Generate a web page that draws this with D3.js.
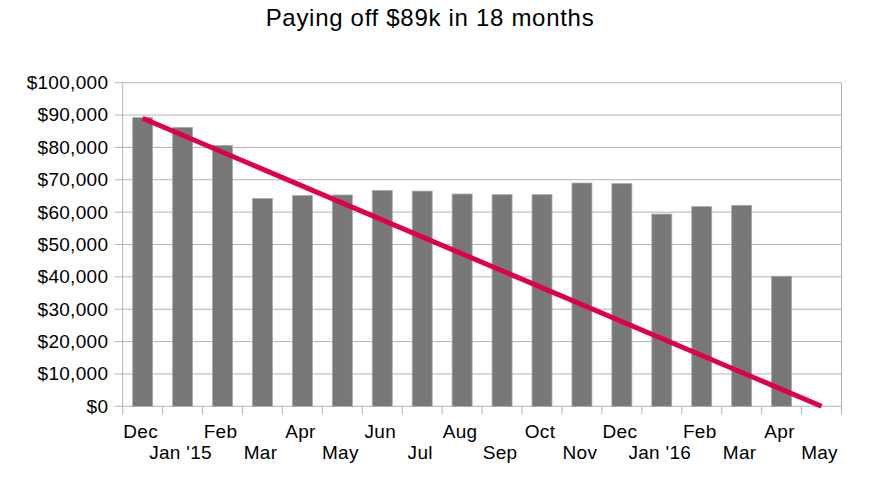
<!DOCTYPE html>
<html><head><meta charset="utf-8">
<script src="https://cdn.jsdelivr.net/npm/d3@7"></script>
<style>
body{margin:0;background:#fff;}
svg{display:block;font-family:"Liberation Sans",Arial,Helvetica,sans-serif;}
</style></head>
<body><svg id="c" width="874" height="494"></svg>
<script>
const months = ["Dec","Jan '15","Feb","Mar","Apr","May","Jun","Jul","Aug","Sep","Oct","Nov","Dec","Jan '16","Feb","Mar","Apr","May"];
const balances = [89200,86200,80600,64200,65100,65300,66700,66500,65600,65400,65400,69000,68800,59400,61700,62100,40200,null];
const targetStart = 89000, targetEnd = 0;
const yTicks = [0,10000,20000,30000,40000,50000,60000,70000,80000,90000,100000];
const title = "Paying off $89k in 18 months";

const svg = d3.select("#c");
const L = 122.7, R = 841.5, T = 82.7, B = 406.3;
const keys = months.map((m,i)=>i);
const x = d3.scaleBand().domain(keys).range([L,R]).paddingInner(0.5).paddingOuter(0.25);
const xc = d3.scaleBand().domain(keys).range([L,R]);
const y = d3.scaleLinear().domain([0,100000]).range([B,T]);

// gridlines
svg.append("g").selectAll("line").data(yTicks).join("line")
  .attr("x1",L-8).attr("x2",R).attr("y1",d=>y(d)).attr("y2",d=>y(d))
  .attr("stroke","#b3b3b3").attr("stroke-width",1);
// frame left/right
svg.append("line").attr("x1",L).attr("x2",L).attr("y1",T).attr("y2",B+8).attr("stroke","#b3b3b3");
svg.append("line").attr("x1",R).attr("x2",R).attr("y1",T).attr("y2",B+8).attr("stroke","#b3b3b3");
// x ticks at category boundaries
svg.append("g").selectAll("line").data(keys.slice(1)).join("line")
  .attr("x1",d=>xc(d)).attr("x2",d=>xc(d)).attr("y1",B).attr("y2",B+8)
  .attr("stroke","#b3b3b3");

// bars
svg.append("g").selectAll("rect").data(keys.filter(i=>balances[i]!=null)).join("rect")
  .attr("x",i=>x(i)).attr("width",x.bandwidth())
  .attr("y",i=>y(balances[i])).attr("height",i=>B-y(balances[i]))
  .attr("fill","#787878").attr("stroke","#a8a8a8").attr("stroke-width",0.8);

// target line
const first = keys[0], last = keys[keys.length-1];
svg.append("line")
  .attr("x1",xc(first)+xc.bandwidth()/2).attr("y1",y(targetStart))
  .attr("x2",xc(last)+xc.bandwidth()/2).attr("y2",y(targetEnd))
  .attr("stroke","#dc004e").attr("stroke-width",5);

// y labels
const fmt = d3.format("$,.0f");
svg.append("g").selectAll("text").data(yTicks).join("text")
  .attr("x",108.3).attr("y",d=>y(d)+6.4).attr("text-anchor","end")
  .attr("font-size",19).attr("letter-spacing","0.3px").attr("fill","#000").text(d=>fmt(d));

// x labels
svg.append("g").selectAll("text").data(keys).join("text")
  .attr("x",i=>xc(i)+xc.bandwidth()/2-2)
  .attr("y",i=>i%2===0?437.5:459)
  .attr("text-anchor","middle").attr("font-size",19).attr("letter-spacing","0.3px").attr("fill","#000")
  .text(i=>months[i]);

// title
svg.append("text").attr("x",430).attr("y",26).attr("text-anchor","middle")
  .attr("font-size",24).attr("letter-spacing","0.7px").attr("fill","#000").text(title);
</script></body></html>
